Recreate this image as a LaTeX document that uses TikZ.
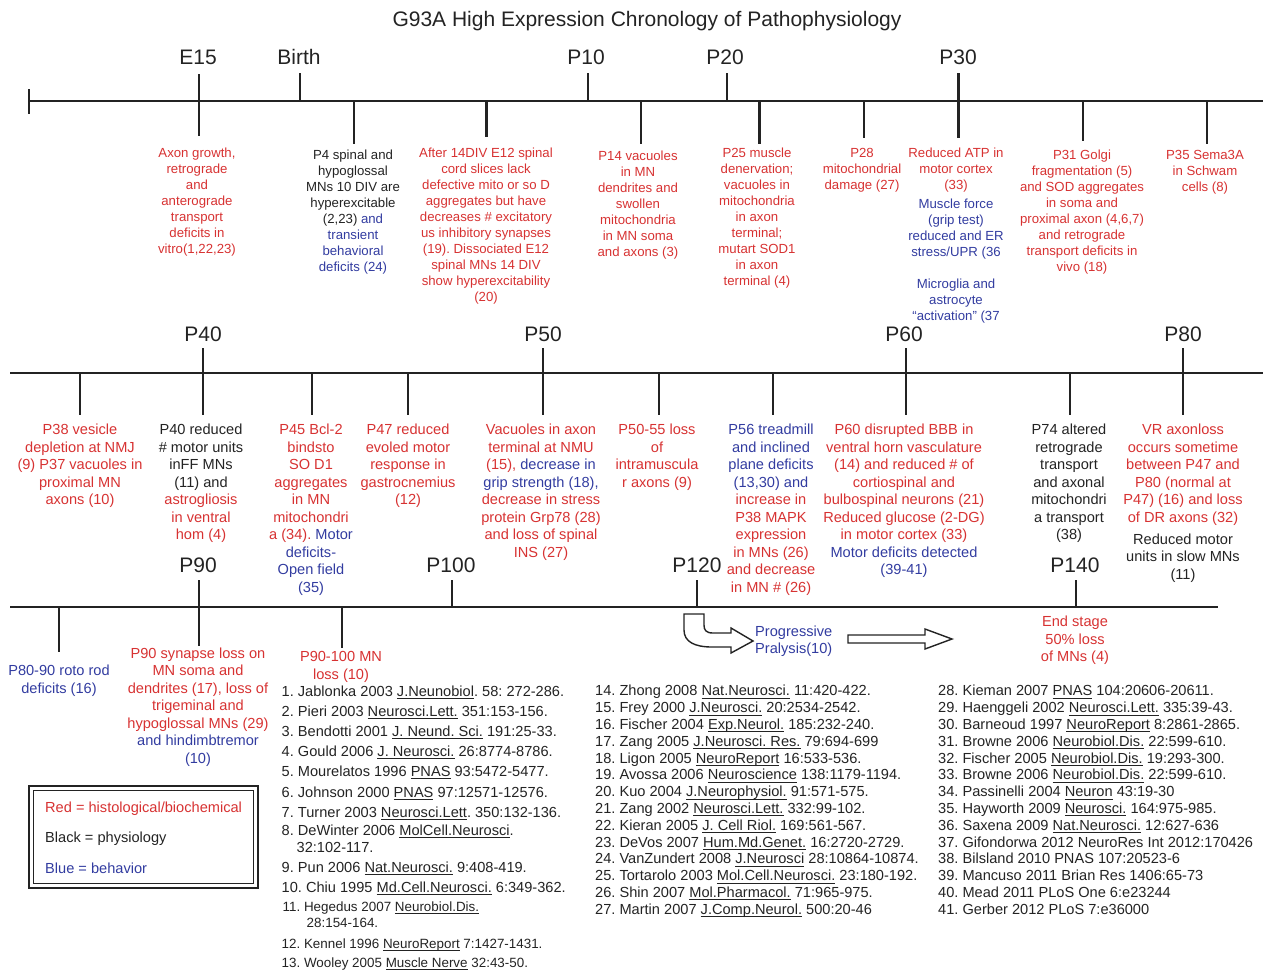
\documentclass[tikz,border=0pt]{standalone}
\usepackage{fontspec}
\setmainfont{Liberation Sans}
\frenchspacing
\definecolor{myred}{RGB}{215,50,50}
\definecolor{myblue}{RGB}{50,60,160}
\definecolor{ink}{RGB}{35,35,35}
\newcommand{\Bl}[1]{\textcolor{myblue}{#1}}
\newcommand{\Rd}[1]{\textcolor{myred}{#1}}
\newsavebox{\myulbox}
\newcommand{\uln}[1]{\sbox{\myulbox}{#1}\rlap{\rule[-2.6pt]{\wd\myulbox}{0.8pt}}\usebox{\myulbox}}
\tikzset{
  axisline/.style={draw=ink, line width=2.2pt},
  tickline/.style={draw=ink, line width=2.2pt},
  ticklab/.style={font=\fontsize{21}{25}\selectfont, text=ink, inner sep=0, anchor=base},
  ta/.style={font=\fontsize{13.2}{16}\selectfont, align=center, inner sep=0, anchor=north},
  tb/.style={font=\fontsize{14.6}{17.5}\selectfont, align=center, inner sep=0, anchor=north},
  refa/.style={font=\fontsize{14.6}{17}\selectfont, text=ink, inner sep=0, anchor=base west},
  refs/.style={font=\fontsize{13.4}{16}\selectfont, text=ink, inner sep=0, anchor=base west},
  blockarrow/.style={draw=ink, line width=1.4pt, fill=white, line join=miter},
}
\begin{document}
\begin{tikzpicture}[x=1pt,y=-1pt]
\useasboundingbox (0,0) rectangle (1263,972);

% title
\node[ticklab] (title) at (647,26.5) {G93A High Expression Chronology of Pathophysiology};

% ---------------- top axis ----------------
\draw[axisline] (29,101) -- (1263,101);
\draw[tickline] (29,89) -- (29,114);
\foreach \x/\t/\n in {198/E15/e15, 299/Birth/birth, 586/P10/p10, 725/P20/p20, 958/P30/p30}
  \node[ticklab] (l\n) at (\x,64.5) {\t};
\draw[tickline] (199,74) -- (199,136);
\draw[tickline] (300,73) -- (300,101);
\draw[tickline] (588,73) -- (588,101);
\draw[tickline] (727,73) -- (727,101);
\draw[tickline] (958.5,73) -- (958.5,138);
\foreach \x/\y in {354/144, 486.5/137, 641/144, 759.5/144, 864/138, 1083/141, 1207/144}
  \draw[tickline] (\x,101) -- (\x,\y);

% top row texts
\node[ta, text=myred] (axon) at (197,148) {Axon growth,\\retrograde\\and\\anterograde\\transport\\deficits in\\vitro(1,22,23)};
\node[ta, text=ink] (p4) at (353,150) {P4 spinal and\\hypoglossal\\MNs 10 DIV are\\hyperexcitable\\(2,23) \Bl{and}\\\Bl{transient}\\\Bl{behavioral}\\\Bl{deficits (24)}};
\node[ta, text=myred] (div) at (486,148) {After 14DIV E12 spinal\\cord slices lack\\defective mito or so D\\aggregates but have\\decreases \# excitatory\\us inhibitory synapses\\(19). Dissociated E12\\spinal MNs 14 DIV\\show hyperexcitability\\(20)};
\node[ta, text=myred] (p14) at (638,151) {P14 vacuoles\\in MN\\dendrites and\\swollen\\mitochondria\\in MN soma\\and axons (3)};
\node[ta, text=myred] (p25) at (757,148) {P25 muscle\\denervation;\\vacuoles in\\mitochondria\\in axon\\terminal;\\mutart SOD1\\in axon\\terminal (4)};
\node[ta, text=myred] (p28) at (862,148) {P28\\mitochondrial\\damage (27)};
\node[ta, text=myred] (atp) at (956,148) {Reduced ATP in\\motor cortex\\(33)};
\node[ta, text=myblue] (grip) at (956,198.5) {Muscle force\\(grip test)\\reduced and ER\\stress/UPR (36};
\node[ta, text=myblue] (micro) at (956,279) {Microglia and\\astrocyte\\“activation” (37};
\node[ta, text=myred] (p31) at (1082,150) {P31 Golgi\\fragmentation (5)\\and SOD aggregates\\in soma and\\proximal axon (4,6,7)\\and retrograde\\transport deficits in\\vivo (18)};
\node[ta, text=myred] (p35) at (1205,150) {P35 Sema3A\\in Schwam\\cells (8)};

% ---------------- middle axis ----------------
\draw[axisline] (10,373) -- (1263,373);
\foreach \x/\t/\n in {203/P40/p40, 543/P50/p50, 904/P60/p60, 1183/P80/p80}
  \node[ticklab] (l\n) at (\x,341.5) {\t};
\foreach \x in {203,543,906,1183}
  \draw[tickline] (\x,348) -- (\x,415);
\foreach \x in {80,312,408,659,773,1070}
  \draw[tickline] (\x,373) -- (\x,415);

% middle row texts
\node[tb, text=myred] (p38) at (80,424) {P38 vesicle\\depletion at NMJ\\(9) P37 vacuoles in\\proximal MN\\axons (10)};
\node[tb, text=ink] (p40) at (201,424) {P40 reduced\\\# motor units\\inFF MNs\\(11) and\\\Rd{astrogliosis}\\\Rd{in ventral}\\\Rd{hom (4)}};
\node[tb, text=myred] (p45) at (311,424) {P45 Bcl-2\\bindsto\\SO D1\\aggregates\\in MN\\mitochondri\\a (34). \Bl{Motor}\\\Bl{deficits-}\\\Bl{Open field}\\\Bl{(35)}};
\node[tb, text=myred] (p47) at (408,424) {P47 reduced\\evoled motor\\response in\\gastrocnemius\\(12)};
\node[tb, text=myred] (vac) at (541,424) {Vacuoles in axon\\terminal at NMU\\(15), \Bl{decrease in}\\\Bl{grip strength (18),}\\decrease in stress\\protein Grp78 (28)\\and loss of spinal\\INS (27)};
\node[tb, text=myred] (p5055) at (657,424) {P50-55 loss\\of\\intramuscula\\r axons (9)};
\node[tb, text=myblue] (p56) at (771,424) {P56 treadmill\\and inclined\\plane deficits\\(13,30) and\\\Rd{increase in}\\\Rd{P38 MAPK}\\\Rd{expression}\\\Rd{in MNs (26)}\\\Rd{and decrease}\\\Rd{in MN \# (26)}};
\node[tb, text=myred] (p60t) at (904,424) {P60 disrupted BBB in\\ventral horn vasculature\\(14) and reduced \# of\\cortiospinal and\\bulbospinal neurons (21)\\Reduced glucose (2-DG)\\in motor cortex (33)\\\Bl{Motor deficits detected}\\\Bl{(39-41)}};
\node[tb, text=ink] (p74) at (1069,424) {P74 altered\\retrograde\\transport\\and axonal\\mitochondri\\a transport\\(38)};
\node[tb, text=myred] (vr) at (1183,424) {VR axonloss\\occurs sometime\\between P47 and\\P80 (normal at\\P47) (16) and loss\\of DR axons (32)};
\node[tb, text=ink] (slow) at (1183,533.5) {Reduced motor\\units in slow MNs\\(11)};

% ---------------- bottom axis ----------------
\draw[axisline] (10,607) -- (1218,607);
\foreach \x/\t/\n in {198/P90/p90, 451/P100/p100, 697/P120/p120, 1075/P140/p140}
  \node[ticklab] (l\n) at (\x,572.5) {\t};
\draw[tickline] (59,607) -- (59,652);
\draw[tickline] (199,580) -- (199,646);
\draw[tickline] (342,607) -- (342,648);
\draw[tickline] (452,580) -- (452,607);
\draw[tickline] (697,580) -- (697,607);
\draw[tickline] (1076,580) -- (1076,607);

% bottom row texts
\node[tb, text=myblue] (p8090) at (59,665) {P80-90 roto rod\\deficits (16)};
\node[tb, text=myred] (p90t) at (198,647.5) {P90 synapse loss on\\MN soma and\\dendrites (17), loss of\\trigeminal and\\hypoglossal MNs (29)\\\Bl{and hindimbtremor}\\\Bl{(10)}};
\node[tb, text=myred] (p90100) at (341,651.5) {P90-100 MN\\loss (10)};
\node[tb, text=myred] (endst) at (1075,616) {End stage\\50\% loss\\of MNs (4)};
\node[tb, text=myblue, align=left, anchor=north west] (prog) at (755,625.5) {Progressive\\Pralysis(10)};

% block arrows
\draw[blockarrow] (684,614) -- (684,630) .. controls (684,642) and (695,647) .. (712,647) -- (731,647) -- (731,653) -- (753,641) -- (731,628) -- (731,633) -- (713,633) .. controls (706,633) and (704,630) .. (704,625) -- (704,614) -- cycle;
\draw[blockarrow] (848,635) -- (925,635) -- (925,629) -- (952,639) -- (925,649) -- (925,643) -- (848,643) -- cycle;

% legend
\draw[ink, line width=1.8pt] (29,786) rectangle (258,888);
\draw[ink, line width=0.9pt] (33.5,790.5) rectangle (253.5,883.5);
\node[refa, text=myred] (lg1) at (45,812) {Red = histological/biochemical};
\node[refa] (lg2) at (45,842) {Black = physiology};
\node[refa, text=myblue] (lg3) at (45,873) {Blue = behavior};

% references column 1
\node[refa] (r1) at (281.5,696) {1. Jablonka 2003 \uln{J.Neunobiol}. 58: 272-286.};
\node[refa] (r2) at (281.5,716) {2. Pieri 2003 \uln{Neurosci.Lett.} 351:153-156.};
\node[refa] (r3) at (281.5,736) {3. Bendotti 2001 \uln{J. Neund. Sci.} 191:25-33.};
\node[refa] (r4) at (281.5,756) {4. Gould 2006 \uln{J. Neurosci.} 26:8774-8786.};
\node[refa] (r5) at (281.5,776) {5. Mourelatos 1996 \uln{PNAS} 93:5472-5477.};
\node[refa] (r6) at (281.5,797) {6. Johnson 2000 \uln{PNAS} 97:12571-12576.};
\node[refa] (r7) at (281.5,817) {7. Turner 2003 \uln{Neurosci.Lett}. 350:132-136.};
\node[refa] (r8) at (281.5,835) {8. DeWinter 2006 \uln{MolCell.Neurosci}.};
\node[refa] (r8b) at (296.5,852.5) {32:102-117.};
\node[refa] (r9) at (281.5,872.5) {9. Pun 2006 \uln{Nat.Neurosci.} 9:408-419.};
\node[refa] (r10) at (281.5,892) {10. Chiu 1995 \uln{Md.Cell.Neurosci.} 6:349-362.};
\node[refs] (r11) at (282.5,911) {11. Hegedus 2007 \uln{Neurobiol.Dis.}};
\node[refs] (r11b) at (306.5,927) {28:154-164.};
\node[refs] (r12) at (281.5,948) {12. Kennel 1996 \uln{NeuroReport} 7:1427-1431.};
\node[refs] (r13) at (281.5,967) {13. Wooley 2005 \uln{Muscle Nerve} 32:43-50.};

% references column 2
\foreach \t [count=\i] in {
  {14. Zhong 2008 \uln{Nat.Neurosci.} 11:420-422.},
  {15. Frey 2000 \uln{J.Neurosci.} 20:2534-2542.},
  {16. Fischer 2004 \uln{Exp.Neurol.} 185:232-240.},
  {17. Zang 2005 \uln{J.Neurosci. Res.} 79:694-699},
  {18. Ligon 2005 \uln{NeuroReport} 16:533-536.},
  {19. Avossa 2006 \uln{Neuroscience} 138:1179-1194.},
  {20. Kuo 2004 \uln{J.Neurophysiol.} 91:571-575.},
  {21. Zang 2002 \uln{Neurosci.Lett.} 332:99-102.},
  {22. Kieran 2005 \uln{J. Cell Riol.} 169:561-567.},
  {23. DeVos 2007 \uln{Hum.Md.Genet.} 16:2720-2729.},
  {24. VanZundert 2008 \uln{J.Neurosci} 28:10864-10874.},
  {25. Tortarolo 2003 \uln{Mol.Cell.Neurosci.} 23:180-192.},
  {26. Shin 2007 \uln{Mol.Pharmacol.} 71:965-975.},
  {27. Martin 2007 \uln{J.Comp.Neurol.} 500:20-46}}
  \node[refa] (rb\i) at (595,679.1+16.8*\i) {\t};

% references column 3
\foreach \t [count=\i] in {
  {28. Kieman 2007 \uln{PNAS} 104:20606-20611.},
  {29. Haenggeli 2002 \uln{Neurosci.Lett.} 335:39-43.},
  {30. Barneoud 1997 \uln{NeuroReport} 8:2861-2865.},
  {31. Browne 2006 \uln{Neurobiol.Dis.} 22:599-610.},
  {32. Fischer 2005 \uln{Neurobiol.Dis.} 19:293-300.},
  {33. Browne 2006 \uln{Neurobiol.Dis.} 22:599-610.},
  {34. Passinelli 2004 \uln{Neuron} 43:19-30},
  {35. Hayworth 2009 \uln{Neurosci.} 164:975-985.},
  {36. Saxena 2009 \uln{Nat.Neurosci.} 12:627-636},
  {37. Gifondorwa 2012 NeuroRes Int 2012:170426},
  {38. Bilsland 2010 PNAS 107:20523-6},
  {39. Mancuso 2011 Brian Res 1406:65-73},
  {40. Mead 2011 PLoS One 6:e23244},
  {41. Gerber 2012 PLoS 7:e36000}}
  \node[refa] (rc\i) at (938,679.1+16.8*\i) {\t};
\end{tikzpicture}
\end{document}
